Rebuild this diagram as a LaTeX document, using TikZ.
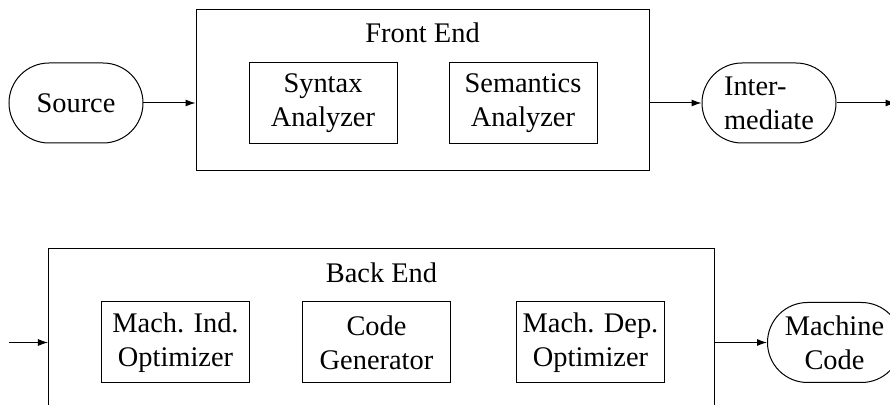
\documentclass[tikz,border=0pt]{standalone}
\usepackage{fontspec}
\setmainfont{Liberation Serif}
\usetikzlibrary{arrows.meta,positioning,calc}

\begin{document}
\begin{tikzpicture}[
    >={Latex[length=5pt,width=3.5pt]},
    every node/.style={font=\fontsize{14.2}{17}\selectfont},
    termbox/.style={draw, line width=0.5pt, rounded corners=20pt, minimum width=67pt, minimum height=40pt, inner xsep=1pt, align=center},
    unitbox/.style={draw, line width=0.5pt, minimum width=74pt, minimum height=40.5pt, inner xsep=1pt, align=center},
    stagebox/.style={draw, line width=0.5pt, minimum height=80.5pt, anchor=west}
]
\useasboundingbox (-38pt,51.5pt) rectangle (407pt,-151pt);

% front end
\node[termbox] (source) at (0,0) {Source};
\node[unitbox, right=52.5pt of source] (syntax) {Syntax\\Analyzer};
\node[unitbox, right=25.5pt of syntax] (semantics) {Semantics\\Analyzer};
\node[stagebox, minimum width=226.5pt] (front) at ($(syntax.west)+(-26.5pt,6.5pt)$) {};
\node[anchor=base] (fronttitle) at ($(front.north)+(0,-17pt)$) {Front End};
\node[termbox, align=left, anchor=west] (inter) at ($(front.east |- source)+(26pt,0)$) {Inter-\\mediate};
\coordinate (interout) at ($(inter.east)+(29.5pt,0)$);

\draw[->, line width=0.5pt] (source) -- (front.west |- source);
\draw[->, line width=0.5pt] (front.east |- inter) -- (inter);
\draw[->, line width=0.5pt] (inter) -- (interout);

% back end
\node[unitbox, below=79pt of source, xshift=49.75pt] (mind) {Mach. Ind.\\Optimizer};
\node[unitbox, right=26pt of mind] (codegen) {Code\\Generator};
\node[unitbox, right=32.5pt of codegen] (mdep) {Mach. Dep.\\Optimizer};
\node[stagebox, minimum width=333pt] (back) at ($(mind.west)+(-26.5pt,6.5pt)$) {};
\node[anchor=base] (backtitle) at ($(back.north)+(0,-17pt)$) {Back End};
\node[termbox, anchor=west] (machine) at ($(back.east |- mind)+(26pt,0)$) {Machine\\Code};
\coordinate (backin) at ($(back.west |- mind)+(-19.5pt,0)$);

\draw[->, line width=0.5pt] (backin) -- (back.west |- mind);
\draw[->, line width=0.5pt] (back.east |- mind) -- (machine);
\end{tikzpicture}
\end{document}
